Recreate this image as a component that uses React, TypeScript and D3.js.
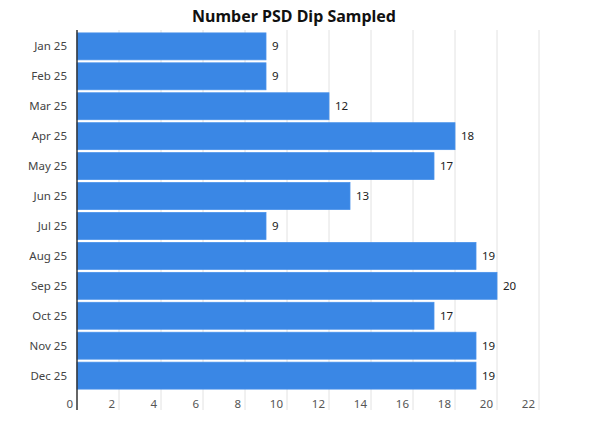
import React from 'react';
import * as d3 from 'd3';

const months = ['Jan 25', 'Feb 25', 'Mar 25', 'Apr 25', 'May 25', 'Jun 25', 'Jul 25', 'Aug 25', 'Sep 25', 'Oct 25', 'Nov 25', 'Dec 25'];
const counts = [9, 9, 12, 18, 17, 13, 9, 19, 20, 17, 19, 19];
const xTicks = [0, 2, 4, 6, 8, 10, 12, 14, 16, 18, 20, 22];

const width = 602;
const height = 430;
const margin = { top: 30, left: 77, right: 602 - 539, bottom: 430 - 390 };

export default function App() {
  const x = d3.scaleLinear().domain([0, 22]).range([margin.left, width - margin.right]);
  const y = d3.scaleBand<string>().domain(months).range([margin.top + 2, height - margin.bottom]).paddingInner(0.1).paddingOuter(0.03);
  const font = '"Noto Sans", "Open Sans", sans-serif';
  const gridBottom = 410;

  return (
    <svg width={width} height={height} style={{ position: 'absolute', left: 0, top: 0, background: '#fff' }}>
      <text x={294} y={22} textAnchor="middle" fontFamily={font} fontWeight={700} fontSize={16} fill="#111">
        Number PSD Dip Sampled
      </text>
      {xTicks.slice(1).map(t => (
        <line key={t} x1={x(t)} x2={x(t)} y1={margin.top} y2={gridBottom} stroke="#e2e2e2" strokeWidth={1} />
      ))}
      {months.map((m, i) => (
        <g key={m}>
          <rect x={x(0)} y={y(m)} width={x(counts[i]) - x(0)} height={y.bandwidth()} fill="#3a87e5" stroke="#4a92ea" strokeWidth={0.8} />
          <text x={x(counts[i]) + 6} y={(y(m) ?? 0) + y.bandwidth() / 2} dy="0.35em" fontFamily={font} fontSize={11.5} fill="#222">
            {counts[i]}
          </text>
          <text x={67} y={(y(m) ?? 0) + y.bandwidth() / 2} dy="0.35em" textAnchor="end" fontFamily={font} fontSize={11.5} fill="#444">
            {m}
          </text>
        </g>
      ))}
      <line x1={x(0)} x2={x(0)} y1={margin.top} y2={gridBottom} stroke="#333" strokeWidth={1.5} />
      {xTicks.map(t => (
        <text key={t} x={x(t) - 4} y={408} textAnchor="end" fontFamily={font} fontSize={11.5} fill="#555">
          {t}
        </text>
      ))}
    </svg>
  );
}
